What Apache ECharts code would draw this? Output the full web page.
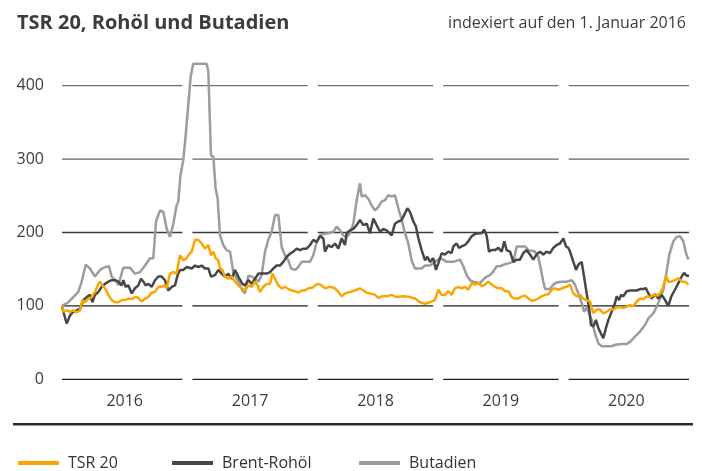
<!DOCTYPE html>
<html><head><meta charset="utf-8">
<script src="https://cdn.jsdelivr.net/npm/echarts@6/dist/echarts.min.js"></script>
<style>html,body{margin:0;padding:0;background:#fff}#c{width:702px;height:471px}</style>
</head><body><div id="c"></div>
<script>
const years = [2016, 2017, 2018, 2019, 2020];
const yTicks = [0, 100, 200, 300, 400];
const seriesNames = ['TSR 20', 'Brent-Rohöl', 'Butadien'];

const tsrTime = [2016.000,2016.011,2016.037,2016.064,2016.090,2016.117,2016.144,2016.162,2016.183,2016.210,2016.237,2016.263,2016.290,2016.303,2016.322,2016.343,2016.369,2016.396,2016.423,2016.449,2016.476,2016.502,2016.529,2016.556,2016.582,2016.609,2016.635,2016.662,2016.688,2016.715,2016.742,2016.768,2016.795,2016.821,2016.835,2016.861,2016.888,2016.914,2016.941,2016.968,2016.994,
2017.007,2017.034,2017.061,2017.087,2017.114,2017.140,2017.167,2017.188,2017.207,2017.225,2017.247,2017.260,2017.279,2017.300,2017.326,2017.353,2017.380,2017.406,2017.433,2017.459,2017.486,2017.513,2017.539,2017.560,2017.579,2017.605,2017.632,2017.659,2017.678,2017.699,2017.725,2017.752,2017.778,2017.805,2017.832,2017.858,2017.885,2017.911,2017.938,2017.964,
2018.000,2018.018,2018.044,2018.071,2018.097,2018.137,2018.177,2018.204,2018.230,2018.257,2018.297,2018.336,2018.376,2018.403,2018.430,2018.456,2018.496,2018.523,2018.549,2018.589,2018.629,2018.669,2018.722,2018.775,2018.815,2018.855,2018.895,2018.935,2018.974,
2019.001,2019.028,2019.054,2019.081,2019.107,2019.134,2019.161,2019.187,2019.214,2019.240,2019.267,2019.293,2019.320,2019.347,2019.373,2019.400,2019.426,2019.453,2019.480,2019.506,2019.533,2019.559,2019.586,2019.612,2019.639,2019.666,2019.692,2019.719,2019.745,2019.772,2019.798,2019.825,2019.852,2019.878,2019.905,2019.931,2019.958,2019.985,
2020.024,2020.051,2020.078,2020.104,2020.131,2020.157,2020.184,2020.211,2020.237,2020.264,2020.290,2020.317,2020.343,2020.370,2020.397,2020.423,2020.450,2020.476,2020.503,2020.530,2020.556,2020.583,2020.609,2020.636,2020.662,2020.689,2020.716,2020.742,2020.769,2020.795,2020.817,2020.835,2020.859,2020.888,2020.915,2020.942,2020.968,2020.995];
const tsrValues = [100,92,94,92,94,91,94,108,105,110,112,119,130,133,128,124,115,108,105,105,108,108,110,109,112,111,106,110,112,118,119,126,126,128,124,144,146,144,169,162,165,
169,174,190,190,185,178,183,169,174,165,162,151,149,140,137,140,133,128,124,121,128,126,133,128,119,126,130,130,144,137,128,124,126,123,121,120,118,121,121,124,
125,128,130,128,124,126,124,119,113,117,119,121,124,121,118,117,115,111,113,113,115,112,113,112,110,105,103,105,108,
122,115,115,120,115,124,126,124,126,122,131,129,131,127,129,133,129,126,124,124,120,120,112,110,110,113,114,110,107,108,110,113,115,116,122,124,122,124,
126,129,117,113,115,110,108,106,90,95,95,90,92,95,95,98,98,97,99,101,100,106,110,109,113,112,115,114,117,126,141,133,133,135,138,133,133,129];

const brentTime = [2016.000,2016.011,2016.037,2016.064,2016.090,2016.117,2016.144,2016.170,2016.197,2016.223,2016.242,2016.263,2016.290,2016.316,2016.343,2016.369,2016.396,2016.423,2016.449,2016.476,2016.489,2016.508,2016.529,2016.556,2016.582,2016.609,2016.630,2016.649,2016.667,2016.688,2016.715,2016.742,2016.768,2016.795,2016.821,2016.848,2016.875,2016.901,2016.922,2016.941,2016.968,2016.994,
2017.007,2017.034,2017.061,2017.087,2017.114,2017.140,2017.167,2017.188,2017.220,2017.247,2017.273,2017.300,2017.326,2017.353,2017.380,2017.406,2017.438,2017.459,2017.486,2017.513,2017.539,2017.566,2017.592,2017.632,2017.659,2017.685,2017.712,2017.738,2017.765,2017.792,2017.818,2017.845,2017.872,2017.898,2017.925,2017.951,2017.978,
2018.004,2018.031,2018.057,2018.084,2018.097,2018.124,2018.150,2018.177,2018.204,2018.230,2018.257,2018.270,2018.297,2018.323,2018.350,2018.376,2018.403,2018.430,2018.456,2018.483,2018.509,2018.536,2018.562,2018.589,2018.629,2018.655,2018.682,2018.709,2018.735,2018.754,2018.775,2018.802,2018.823,2018.842,2018.868,2018.895,2018.913,2018.935,2018.961,2018.982,
2019.001,2019.028,2019.054,2019.081,2019.107,2019.121,2019.147,2019.166,2019.187,2019.214,2019.240,2019.267,2019.293,2019.320,2019.347,2019.368,2019.387,2019.405,2019.426,2019.453,2019.480,2019.506,2019.527,2019.546,2019.573,2019.599,2019.626,2019.652,2019.679,2019.705,2019.732,2019.758,2019.785,2019.812,2019.838,2019.865,2019.891,2019.918,2019.945,2019.971,2019.998,
2020.019,2020.038,2020.051,2020.078,2020.099,2020.117,2020.144,2020.163,2020.184,2020.205,2020.218,2020.237,2020.258,2020.277,2020.296,2020.317,2020.338,2020.357,2020.383,2020.410,2020.423,2020.442,2020.458,2020.476,2020.503,2020.530,2020.556,2020.583,2020.609,2020.636,2020.657,2020.676,2020.702,2020.729,2020.755,2020.782,2020.809,2020.835,2020.859,2020.888,2020.915,2020.942,2020.961,2020.982,2021.000];
const brentValues = [100,92,76,87,92,94,96,108,112,115,105,115,119,126,130,133,135,135,133,128,135,126,128,117,124,128,137,133,128,130,126,135,140,140,135,121,126,128,142,149,149,153,
153,151,155,153,155,151,151,140,142,149,144,140,144,137,149,140,130,128,135,130,137,144,144,144,146,151,155,155,160,167,171,174,178,176,178,178,183,
190,187,195,192,174,183,180,185,178,192,183,199,203,205,210,217,210,212,199,219,210,201,205,203,196,212,215,217,226,233,228,215,208,192,176,162,167,160,165,149,
158,172,170,174,172,181,185,179,181,183,188,195,198,199,199,204,195,174,176,176,179,174,188,176,174,160,163,163,172,176,170,163,170,174,170,174,172,179,183,185,192,
181,179,174,160,149,156,160,140,117,95,74,72,81,70,63,56,70,81,92,104,113,108,115,113,120,121,121,121,123,123,124,117,110,116,110,115,108,100,113,122,131,140,145,141,141];

const butaTime = [2016.000,2016.051,2016.090,2016.130,2016.157,2016.189,2016.223,2016.263,2016.303,2016.343,2016.375,2016.396,2016.436,2016.449,2016.489,2016.542,2016.582,2016.622,2016.662,2016.702,2016.728,2016.750,2016.781,2016.808,2016.835,2016.861,2016.888,2016.914,2016.927,2016.945,2016.968,2016.985,
2017.007,2017.026,2017.046,2017.154,2017.167,2017.188,2017.207,2017.225,2017.241,2017.260,2017.286,2017.313,2017.340,2017.366,2017.406,2017.438,2017.459,2017.486,2017.513,2017.539,2017.566,2017.592,2017.619,2017.645,2017.672,2017.699,2017.725,2017.752,2017.778,2017.805,2017.826,2017.858,2017.885,2017.911,2017.938,2017.978,
2018.004,2018.031,2018.057,2018.084,2018.124,2018.164,2018.190,2018.217,2018.243,2018.270,2018.297,2018.323,2018.350,2018.376,2018.390,2018.416,2018.443,2018.469,2018.496,2018.523,2018.549,2018.576,2018.602,2018.629,2018.655,2018.682,2018.709,2018.735,2018.762,2018.788,2018.815,2018.842,2018.868,2018.895,2018.935,2018.974,
2019.014,2019.041,2019.068,2019.121,2019.174,2019.200,2019.227,2019.254,2019.280,2019.307,2019.333,2019.360,2019.387,2019.413,2019.440,2019.466,2019.493,2019.519,2019.559,2019.599,2019.626,2019.666,2019.692,2019.719,2019.772,2019.798,2019.820,2019.838,2019.852,2019.891,2019.918,2019.945,2019.985,
2020.024,2020.064,2020.091,2020.117,2020.144,2020.163,2020.184,2020.224,2020.250,2020.277,2020.304,2020.343,2020.383,2020.410,2020.463,2020.503,2020.530,2020.569,2020.609,2020.649,2020.676,2020.716,2020.742,2020.769,2020.795,2020.822,2020.843,2020.875,2020.902,2020.928,2020.955,2020.976,2020.995];
const butaValues = [100,105,112,119,133,156,151,140,149,153,154,140,133,128,152,152,144,146,155,165,165,215,230,228,205,194,212,237,242,278,300,330,
374,412,430,430,419,305,303,260,246,196,183,176,174,146,133,121,117,141,140,137,133,142,174,190,201,224,224,180,169,162,151,149,153,160,160,160,
169,187,196,198,199,201,208,203,196,194,199,212,244,267,249,251,246,237,230,235,242,244,251,249,251,233,217,199,185,162,151,151,151,155,155,160,
165,163,160,160,163,154,142,135,133,132,131,136,140,142,147,154,154,156,158,160,181,181,181,176,174,167,149,133,123,123,129,132,133,
133,135,129,117,104,92,98,81,63,49,45,45,45,47,48,48,51,58,65,74,83,90,99,110,122,147,170,188,194,195,188,172,163];

const colors = {'TSR 20': '#f9a602', 'Brent-Rohöl': '#474747', 'Butadien': '#9c9c9c'};
const gridColor = {0: '#1e1e1e', 100: '#1e1e1e', 200: '#3a3a3a', 300: '#666', 400: '#6e6e6e'};
const FONT = '"Open Sans", sans-serif';

function zip(t, v) { return t.map((x, i) => [x, v[i]]); }
const gridData = [];
years.forEach(y => yTicks.forEach(v => gridData.push([y, v])));

function lineSeries(name, t, v, z) {
  return {
    name, type: 'line', data: zip(t, v), showSymbol: false, symbol: 'none', clip: false, z,
    lineStyle: { color: colors[name], width: 2.5 }, itemStyle: { color: colors[name] },
    emphasis: { disabled: true }, animation: false
  };
}

function legendFor(name, left) {
  return {
    data: [name], left, top: 450, icon: 'rect', itemWidth: 41, itemHeight: 4,
    textStyle: { color: '#333', fontSize: 16, fontFamily: FONT, padding: [0, 0, 0, 4] },
    selectedMode: false
  };
}

const chart = echarts.init(document.getElementById('c'), null, { renderer: 'canvas' });
chart.setOption({
  animation: false,
  backgroundColor: '#fff',
  title: [
    { text: 'TSR 20, Rohöl und Butadien', left: 12, top: 8,
      textStyle: { fontFamily: FONT, fontWeight: 'bold', fontSize: 20, color: '#3c3c3c' } },
    { text: 'indexiert auf den 1. Januar 2016', right: 11, top: 10,
      textStyle: { fontFamily: FONT, fontWeight: 'normal', fontSize: 16, color: '#3c3c3c' } }
  ],
  legend: [legendFor('TSR 20', 13), legendFor('Brent-Rohöl', 167), legendFor('Butadien', 354)],
  grid: { left: 62, right: 13, top: 85.7, bottom: 91.7, containLabel: false },
  xAxis: {
    type: 'value', min: 2016, max: 2021, interval: 0.5,
    axisLine: { show: false }, axisTick: { show: false }, splitLine: { show: false },
    axisLabel: {
      margin: 14, color: '#3c3c3c', fontSize: 16, fontFamily: FONT,
      showMinLabel: false, showMaxLabel: false,
      formatter: v => (Math.abs(v - Math.floor(v) - 0.5) < 1e-6 ? String(Math.floor(v)) : '')
    }
  },
  yAxis: {
    type: 'value', min: 0, max: 400, interval: 100,
    axisLine: { show: false }, axisTick: { show: false }, splitLine: { show: false },
    axisLabel: { margin: 18, color: '#3c3c3c', fontSize: 16, fontFamily: FONT }
  },
  graphic: [
    { type: 'rect', left: 13, top: 423, shape: { width: 680, height: 2 }, style: { fill: '#2a2a2a' }, silent: true },
    { type: 'rect', left: 13, top: 425, shape: { width: 680, height: 1 }, style: { fill: '#9a9a9a' }, silent: true }
  ],
  series: [
    {
      type: 'custom', silent: true, z: 1, animation: false,
      data: gridData, encode: { x: 0, y: 1 },
      renderItem(params, api) {
        const y0 = api.value(0), v = api.value(1);
        const a = api.coord([y0, v]), b = api.coord([y0 + 1, v]);
        const gap = 5;
        const x1 = y0 === years[0] ? a[0] : a[0] + gap;
        const x2 = y0 === years[years.length - 1] ? b[0] : b[0] - gap;
        return { type: 'line', shape: { x1, y1: a[1], x2, y2: a[1] },
                 style: { stroke: gridColor[v], lineWidth: 1.3 } };
      }
    },
    lineSeries('Butadien', butaTime, butaValues, 3),
    lineSeries('Brent-Rohöl', brentTime, brentValues, 4),
    lineSeries('TSR 20', tsrTime, tsrValues, 5)
  ]
});
</script>
</body></html>
